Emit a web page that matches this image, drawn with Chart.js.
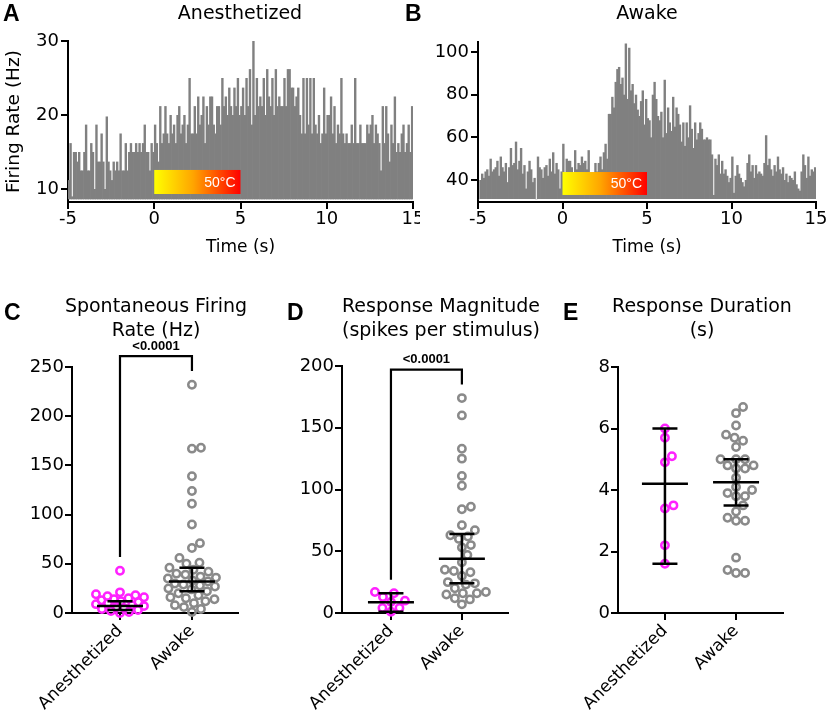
<!DOCTYPE html>
<html><head><meta charset="utf-8">
<script src="https://cdn.jsdelivr.net/npm/chart.js@4.4.1/dist/chart.umd.min.js"></script>
<style>
html,body{margin:0;padding:0;background:#fff;}
#wrap{position:relative;width:828px;height:719px;overflow:hidden;background:#fff;font-family:'DejaVu Sans',sans-serif;color:#000;}
canvas{position:absolute;}
.t{position:absolute;white-space:nowrap;transform:translateX(-50%);text-align:center;font-size:19px;line-height:24px;}
.l{position:absolute;font-family:'Liberation Sans',Arial,sans-serif;font-weight:bold;font-size:23px;line-height:23px;}
</style></head>
<body><div id="wrap">
<canvas id="cA" width="420" height="260" style="left:0;top:0"></canvas>
<canvas id="cB" width="418" height="260" style="left:410px;top:0"></canvas>
<canvas id="cC" width="270" height="439" style="left:0;top:280px"></canvas>
<canvas id="cD" width="270" height="439" style="left:270px;top:280px"></canvas>
<canvas id="cE" width="270" height="439" style="left:546px;top:280px"></canvas>
<div class="l" style="left:3px;top:2px">A</div>
<div class="l" style="left:405px;top:2px">B</div>
<div class="l" style="left:4px;top:301px">C</div>
<div class="l" style="left:287px;top:301px">D</div>
<div class="l" style="left:563px;top:301px">E</div>
<div class="t" style="left:240px;top:0px">Anesthetized</div>
<div class="t" style="left:647px;top:0px">Awake</div>
<div class="t" style="left:156px;top:293px">Spontaneous Firing<br>Rate (Hz)</div>
<div class="t" style="left:441px;top:293px">Response Magnitude<br>(spikes per stimulus)</div>
<div class="t" style="left:702px;top:293px">Response Duration<br>(s)</div>
</div>
<script>
// ---------- data ----------
const histStart = -5, histBin = 0.1;           // time bins (s)
const stimStart = 0, stimEnd = 5, stimLabel = '50°C';
const anesthRate = [
 11.2,16.2,9,15,15,13.7,15,12.5,12.5,15,
 18.7,12.5,12.5,16.2,15,10,18.7,13.7,13.7,17.5,
 13.7,10,19.8,13.7,12.5,11.2,13.7,12.5,13.7,12.5,
 17.5,12.5,12.5,16.2,12.5,15,16.2,15,15,16.2,
 15,16.2,15,16.2,18.7,15,15,12.5,16.2,15,
 18.7,16.2,13.7,21.2,16.2,17.5,21.2,17.5,16.2,20,
 17.5,18.7,16.2,20,21.2,17.5,18.7,20,16.2,18.7,
 25,17.5,17.5,21.2,17.5,22.5,18.7,20,22.5,16.2,
 21.2,18.7,22.5,22.5,18.7,17.5,21.2,21.2,18.7,25,
 21.2,22.5,20,23.7,21.2,20,23.7,21.2,25,20,
 21.2,23.7,20,25,21.2,26.2,18.7,30,20,25,
 21.2,22.5,21.2,25,20,26.2,22.5,21.2,25,20,
 26.2,21.2,22.5,21.2,21.2,25,21.2,26.2,26.2,23.7,
 23.7,21.2,22.5,23.7,20,17.5,25,17.5,25,18.7,
 25,17.5,25,18.7,17.5,20,16.2,17.5,23.7,17.5,
 20,20,22.5,17.5,21.2,16.2,18.7,17.5,25,17.5,
 16.2,17.5,16.2,16.2,18.7,16.2,25,16.2,16.2,18.7,
 16.2,16.2,16.2,18.7,17.5,18.7,20,16.2,18.7,17.5,
 16.2,12.5,21.2,16.2,21.2,17.5,13.7,18.7,16.2,22.5,
 15,16.2,15,17.5,18.7,15,16.2,18.7,15,21.2
];
const awakeRate = [
 31,40,43,41,44,45,42,50,44,45,
 46,49,42,51,46,44,48,39,46,55,
 47,48,58,45,49,55,43,47,36,44,
 49,45,39,41,31,51,46,45,41,46,
 47,42,50,44,53,43,48,45,36,44,
 57,43,50,49,49,46,42,54,45,48,
 47,51,48,49,45,54,40,37,42,48,
 44,48,51,45,53,57,50,71,71,79,
 74,86,92,93,85,88,80,104,78,102,
 82,85,76,80,73,70,77,82,66,78,
 69,68,60,80,86,78,70,68,72,60,
 87,62,74,67,63,79,65,74,71,66,
 58,67,56,67,60,75,64,55,67,59,
 62,67,64,59,59,60,59,59,52,33,
 50,47,52,43,49,43,45,42,39,41,
 51,34,42,47,43,41,39,37,40,48,
 52,44,47,41,47,43,44,43,42,48,
 61,47,50,45,42,47,44,51,45,43,
 46,40,43,39,42,41,40,44,38,36,
 35,44,52,47,41,51,42,45,44,46
];
const categories = ['Anesthetized', 'Awake'];
const spontAnesth = [43,21,19,18,17,16,15,14,13,12,11,10,9,8,7,6,5,4,3,2,1,0];
const spontAwake = [232,168,167,139,124,111,90,71,66,56,51,50,46,44,42,40,39,37,36,35,33,32,30,29,28,27,25,24,22,20,18,16,15,14,12,10,8,6,4,1];
const magAnesth = [17,16,13,10,9,4,4,1];
const magAwake = [174,160,133,125,111,103,86,84,71,67,63,62,60,55,53,47,41,35,34,33,30,25,24,23,20,17,16,16,15,12,11,7];
const durAnesth = [6.0,5.7,5.1,4.9,3.5,3.4,2.2,1.6];
const durAwake = [6.7,6.5,6.1,5.8,5.7,5.6,5.4,5.0,5.0,5.0,4.8,4.8,4.7,4.7,4.4,4.1,4.0,3.9,3.8,3.8,3.5,3.3,3.1,3.0,3.0,1.8,1.4,1.3,1.3];
// central line and error bar ends [Anesthetized, Awake]
const spontMean = [7, 32], spontLo = [3, 22], spontHi = [12, 46];
const magMean = [8.7, 44], magLo = [1, 24], magHi = [16, 64];
const durMean = [4.2, 4.25], durLo = [1.6, 3.5], durHi = [6.0, 5.0];
const pLabel = '<0.0001';
const spontBracket = [57, 261, 246];   // left end, top, right end (data units)
const magBracket = [27, 197, 185];

// ---------- helpers ----------
Chart.defaults.font.family = "'DejaVu Sans', sans-serif";
Chart.defaults.color = '#000';
const MAG = '#ff22ff', GRAY = '#8a8a8a';
const gridOpts = {drawOnChartArea:false, drawTicks:true, tickLength:7, lineWidth:2, color:'#000', tickColor:'#000'};
const borderOpts = {display:true, color:'#000', width:2};

function makeStim(top, bottom) {
  return {id:'stim', afterDatasetsDraw(chart) {
    const {ctx, scales:{x, y}} = chart;
    const x0 = x.getPixelForValue(stimStart), x1 = x.getPixelForValue(stimEnd);
    const y0 = y.getPixelForValue(top), y1 = y.getPixelForValue(bottom);
    ctx.save();
    const g = ctx.createLinearGradient(x0, 0, x1, 0);
    g.addColorStop(0, '#ffff00'); g.addColorStop(0.45, '#ffa500'); g.addColorStop(1, '#ff0000');
    ctx.fillStyle = g; ctx.fillRect(x0, y0, x1 - x0, y1 - y0);
    ctx.fillStyle = '#fff'; ctx.font = "14px 'Liberation Sans', Arial, sans-serif";
    ctx.textAlign = 'right'; ctx.textBaseline = 'middle';
    ctx.fillText(stimLabel, x1 - 5, (y0 + y1) / 2 + 1);
    ctx.restore();
  }};
}
function makeSummary(mean, lo, hi) {
  return {id:'summary', afterDatasetsDraw(chart) {
    const {ctx, scales:{x, y}} = chart;
    ctx.save(); ctx.strokeStyle = '#000'; ctx.lineWidth = 2.5;
    mean.forEach((m, i) => {
      const cx = x.getPixelForValue(i + 1);
      const pm = y.getPixelForValue(m), pl = y.getPixelForValue(lo[i]), ph = y.getPixelForValue(hi[i]);
      ctx.beginPath();
      ctx.moveTo(cx - 23, pm); ctx.lineTo(cx + 23, pm);
      ctx.moveTo(cx - 12.5, pl); ctx.lineTo(cx + 12.5, pl);
      ctx.moveTo(cx - 12.5, ph); ctx.lineTo(cx + 12.5, ph);
      ctx.moveTo(cx, pl); ctx.lineTo(cx, ph);
      ctx.stroke();
    });
    ctx.restore();
  }};
}
function makeBracket(b) {
  return {id:'bracket', afterDraw(chart) {
    const {ctx, scales:{x, y}} = chart;
    const x1 = x.getPixelForValue(1), x2 = x.getPixelForValue(2);
    const yl = y.getPixelForValue(b[0]), yt = y.getPixelForValue(b[1]), yr = y.getPixelForValue(b[2]);
    ctx.save(); ctx.strokeStyle = '#000'; ctx.lineWidth = 2.2;
    ctx.beginPath(); ctx.moveTo(x1, yl); ctx.lineTo(x1, yt); ctx.lineTo(x2, yt); ctx.lineTo(x2, yr); ctx.stroke();
    ctx.fillStyle = '#000'; ctx.font = "bold 13px 'Liberation Sans', Arial, sans-serif";
    ctx.textAlign = 'center'; ctx.textBaseline = 'middle';
    ctx.fillText(pLabel, (x1 + x2) / 2, yt - 10);
    ctx.restore();
  }};
}

function histConfig(values, yMin, yMax, base, yStep, padTop, padRight, showYTitle, stim) {
  return {
    type:'bar',
    data:{datasets:[{
      data: values.map((v, i) => ({x: histStart + (i + 0.5) * histBin, y: v})),
      backgroundColor:'#808080', borderWidth:0, barThickness:2.4, inflateAmount:0, base: base
    }]},
    options:{
      responsive:false, animation:false, events:[], devicePixelRatio:1,
      layout:{padding:{left:0, top:padTop, right:padRight, bottom:0}},
      plugins:{legend:{display:false}, tooltip:{enabled:false}},
      scales:{
        x:{type:'linear', min:-5, max:15, offset:false,
           ticks:{stepSize:5, font:{size:18}, color:'#000', padding:0, maxRotation:0},
           grid:Object.assign({offset:false}, gridOpts), border:borderOpts,
           title:{display:true, text:'Time (s)', font:{size:17}, color:'#000', padding:{top:0, bottom:2}},
           afterFit(s){ s.height = 58; s.paddingLeft = 0; s.paddingRight = 0; }},
        y:{min:yMin, max:yMax,
           ticks:{stepSize:yStep, includeBounds:false, font:{size:18}, color:'#000', padding:2},
           grid:gridOpts, border:borderOpts,
           title:{display:showYTitle, text:'Firing Rate (Hz)', font:{size:18.5}, color:'#000', padding:{top:3, bottom:0}},
           afterFit(s){ s.width = 68; s.paddingTop = 0; s.paddingBottom = 0; }}
      }
    },
    plugins:[makeStim(stim[0], stim[1])]
  };
}

function dotConfig(a, b, xMin, xMax, yMax, yStep, padTop, padRight, summary, bracket) {
  const plugins = [makeSummary(summary[0], summary[1], summary[2])];
  if (bracket) plugins.push(makeBracket(bracket));
  const ds = (vals, c, col) => ({
    data: vals.map(v => ({x: c, y: v})), center: c, clip: false,
    borderColor: col, backgroundColor: 'rgba(0,0,0,0)',
    pointRadius: 3.7, pointBorderWidth: 2.5, pointHoverRadius: 3.7, pointStyle: 'circle'
  });
  return {
    type:'scatter',
    data:{datasets:[ds(a, 1, MAG), ds(b, 2, GRAY)]},
    options:{
      responsive:false, animation:false, events:[], devicePixelRatio:1,
      layout:{padding:{left:0, top:padTop, right:padRight, bottom:0}},
      plugins:{legend:{display:false}, tooltip:{enabled:false}},
      scales:{
        x:{type:'linear', min:xMin, max:xMax,
           afterBuildTicks(s){ s.ticks = categories.map((c, i) => ({value: i + 1})); },
           ticks:{callback:(v) => categories[Math.round(v) - 1], minRotation:45, maxRotation:45, autoSkip:false,
                  font:{size:17}, color:'#000', padding:1},
           grid:gridOpts, border:borderOpts,
           afterFit(s){ s.height = 106; s.paddingLeft = 0; s.paddingRight = 0; }},
        y:{min:0, max:yMax,
           ticks:{stepSize:yStep, font:{size:18}, color:'#000', padding:1},
           grid:gridOpts, border:borderOpts,
           afterFit(s){ s.width = 72; s.paddingTop = 0; s.paddingBottom = 0; }}
      }
    },
    plugins
  };
}

// beeswarm layout computed from the chart's own scales
function swarm(chart) {
  const xs = chart.scales.x, ys = chart.scales.y;
  const ppu = xs.getPixelForValue(1) - xs.getPixelForValue(0);
  const D = 9, maxOff = 24, step = 0.5;
  chart.data.datasets.forEach(ds => {
    const placed = [];
    const order = ds.data.map((d, i) => i).sort((p, q) => ds.data[p].y - ds.data[q].y);
    order.forEach(i => {
      const py = ys.getPixelForValue(ds.data[i].y);
      let chosen = null, bestOff = 0, bestScore = -1;
      for (let k = 0; k <= 2 * maxOff / step; k++) {
        const off = (k % 2 ? 1 : -1) * Math.ceil(k / 2) * step;
        let md = Infinity;
        for (const p of placed) { const d = Math.hypot(p[0] - off, p[1] - py); if (d < md) md = d; }
        if (md >= D) { chosen = off; break; }
        if (md > bestScore) { bestScore = md; bestOff = off; }
      }
      if (chosen === null) chosen = bestOff;
      placed.push([chosen, py]);
      ds.data[i].x = ds.center + chosen / ppu;
    });
  });
  chart.update('none');
}

new Chart(document.getElementById('cA'), histConfig(anesthRate, 8.24, 30, 8.6, 10, 41, 7, true, [12.57, 9.32]));
new Chart(document.getElementById('cB'), histConfig(awakeRate, 29.7, 104.7, 31.1, 20, 42, 12, false, [43.75, 33]));
swarm(new Chart(document.getElementById('cC'), dotConfig(spontAnesth, spontAwake, 0.333, 2.64, 250, 50, 87, 32, [spontMean, spontLo, spontHi], spontBracket)));
swarm(new Chart(document.getElementById('cD'), dotConfig(magAnesth, magAwake, 0.31, 2.65, 200, 50, 86, 32, [magMean, magLo, magHi], magBracket)));
swarm(new Chart(document.getElementById('cE'), dotConfig(durAnesth, durAwake, 0.34, 2.66, 8, 2, 87, 33, [durMean, durLo, durHi], null)));
</script>
</body></html>
